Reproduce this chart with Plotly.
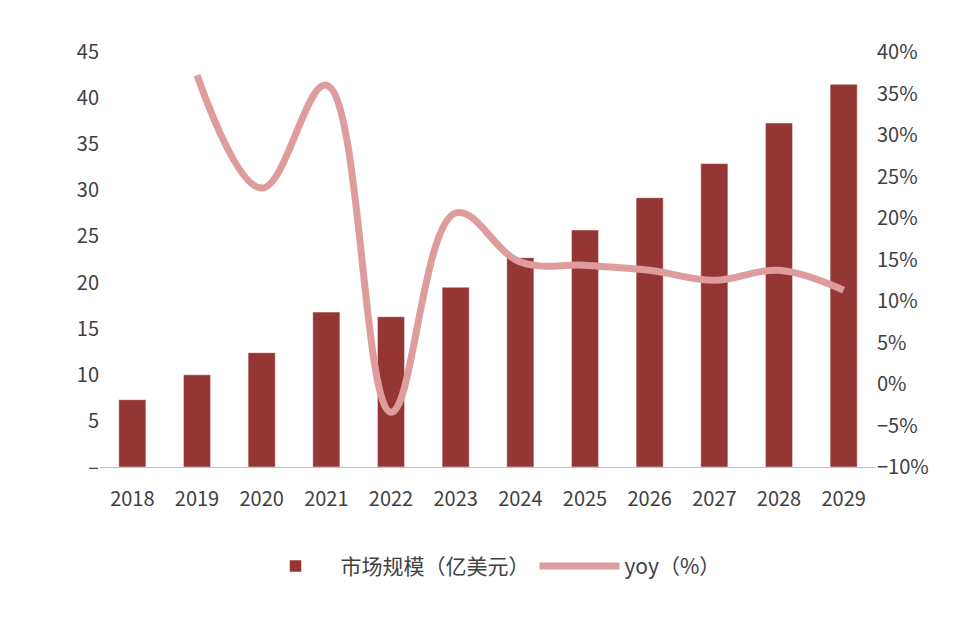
import plotly.graph_objects as go

years = ["2018", "2019", "2020", "2021", "2022", "2023", "2024", "2025", "2026", "2027", "2028", "2029"]
market = [7.3, 10.0, 12.4, 16.8, 16.3, 19.5, 22.7, 25.7, 29.2, 32.9, 37.3, 41.5]
yoy_years = years[1:]
yoy = [37.2, 23.6, 36.0, -3.4, 20.6, 14.7, 14.3, 13.7, 12.5, 13.7, 11.3]

left_ticks = [0, 5, 10, 15, 20, 25, 30, 35, 40, 45]
left_text = ["–"] + [str(v) for v in left_ticks[1:]]
right_ticks = list(range(-10, 45, 5))
right_text = [f"{v}%".replace("-", "−") for v in right_ticks]

font = "Noto Sans CJK SC"
fig = go.Figure()
fig.add_trace(go.Bar(x=years, y=market, name="市场规模（亿美元）",
                     marker_color="#943634", width=0.42))
fig.add_trace(go.Scatter(x=yoy_years, y=yoy, name="yoy（%）", yaxis="y2", mode="lines",
                         line=dict(color="#DE9C9C", width=7, shape="spline", smoothing=1.1)))

fig.update_layout(
    width=980, height=635, template="simple_white",
    margin=dict(l=92, r=112, t=44, b=176),
    font=dict(family=font, size=20, color="#404040"),
    bargap=0.5,
    xaxis=dict(showline=True, linecolor="#BFBFBF", ticks="", tickfont=dict(size=20),
               ticklabelstandoff=14),
    yaxis=dict(range=[0, 45], tickvals=left_ticks, ticktext=left_text,
               showline=False, ticks="", showgrid=False),
    yaxis2=dict(range=[-10, 40], tickvals=right_ticks, ticktext=right_text, overlaying="y",
                side="right", showline=False, ticks="", showgrid=False),
    legend=dict(orientation="h", x=0.5, xanchor="center", y=-0.19, yanchor="top",
                font=dict(size=21), itemwidth=80),
)
fig.write_html("out.html")
